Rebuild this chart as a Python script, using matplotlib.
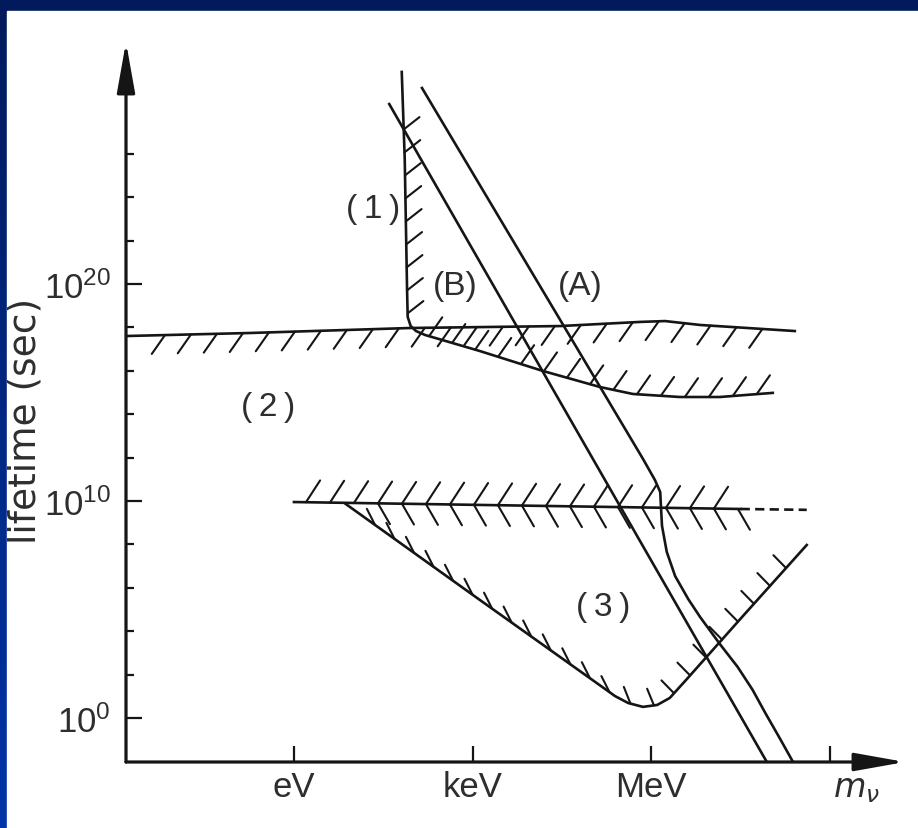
import numpy as np
import matplotlib
matplotlib.use("Agg")
import matplotlib.pyplot as plt
from matplotlib.patches import Rectangle

# all coordinates are log10(mass / eV) and log10(lifetime / s)

# bound (2): upper horizontal curve, hatched below
bound2_x = [-2.82, -0.74, 1.95, 4.47, 5.81, 6.23, 6.82, 8.41]
bound2_y = [17.60, 17.74, 17.97, 18.06, 18.25, 18.29, 18.11, 17.83]

# bound (1): steep wall that bends into the lower curve
bound1_x = [1.81, 1.86, 1.90, 1.91, 1.96, 2.05, 2.20, 3.12, 4.18, 5.14, 5.69, 6.48, 7.15, 8.04]
bound1_y = [29.77, 25.76, 19.63, 18.48, 18.06, 17.83, 17.65, 16.91, 15.99, 15.25, 14.93, 14.79, 14.79, 14.98]

# decay curves (B) and (A)
line_b_x = [1.60, 7.94]
line_b_y = [28.29, -2.03]

line_a_x = [2.15, 5.86, 6.06, 6.15, 6.16, 6.18, 6.26, 6.40, 6.62, 6.82, 7.15, 7.45, 7.70, 7.92, 8.15, 8.38]
line_a_y = [29.03, 11.94, 10.97, 10.41, 9.86, 8.85, 7.65, 6.54, 5.48, 4.65, 3.41, 2.35, 1.30, 0.20, -0.90, -2.03]

# bound (3): the 10^10 s line and the V-shaped curve below it
bound3_top_x = [0.0, 7.50]
bound3_top_y = [9.95, 9.63]
bound3_ext_x = [7.50, 8.61]
bound3_ext_y = [9.63, 9.59]

bound3_x = [0.87, 3.12, 5.15, 5.39, 5.61, 5.86, 6.10, 6.31, 6.60, 7.54, 8.61]
bound3_y = [9.86, 5.44, 1.48, 1.01, 0.69, 0.51, 0.60, 0.92, 1.80, 4.70, 7.97]

x_ticks = [0, 3, 6, 9]
x_tick_labels = ["eV", "keV", "MeV", ""]
y_major = [0, 10, 20]
y_major_labels = [r"$\mathregular{10^{0}}$", r"$\mathregular{10^{10}}$", r"$\mathregular{10^{20}}$"]
y_minor = [2, 4, 6, 8, 12, 14, 16, 18, 22, 24, 26]

ink = "#151515"
text_c = "#2e2e2e"
W, H = 918, 829
font = ["Liberation Sans", "DejaVu Sans"]


def hatch(ax, xs, ys, spacing, length, angle, lo=None, hi=None, along="x", lw=1.5):
    """Short strokes every `spacing` px along a curve, `length` px long."""
    pts = ax.transData.transform(np.column_stack([xs, ys]))
    inv = ax.transData.inverted()
    seg = np.diff(pts, axis=0)
    seglen = np.hypot(seg[:, 0], seg[:, 1])
    s = np.concatenate([[0], np.cumsum(seglen)])
    for si in np.arange(spacing / 2, s[-1], spacing):
        i = min(max(np.searchsorted(s, si) - 1, 0), len(seg) - 1)
        base = pts[i] + (si - s[i]) / seglen[i] * seg[i]
        bx, by = inv.transform(base)
        key = bx if along == "x" else by
        if lo is not None and key < lo:
            continue
        if hi is not None and key > hi:
            continue
        tang = np.degrees(np.arctan2(seg[i, 1], seg[i, 0]))
        a = np.radians(angle(tang) if callable(angle) else angle)
        end = base + length * np.array([np.cos(a), np.sin(a)])
        d = inv.transform(np.vstack([base, end]))
        ax.plot(d[:, 0], d[:, 1], color=ink, lw=lw, solid_capstyle="round")


fig = plt.figure(figsize=(W / 100, H / 100), dpi=100)

# blue frame with a vertical gradient, white sheet on top
bg = fig.add_axes([0, 0, 1, 1])
grad = np.linspace(0, 1, 256)[:, None]
top_c = np.array([0, 26, 92]) / 255
bot_c = np.array([0, 52, 168]) / 255
img = top_c + grad[..., None] * (bot_c - top_c)
bg.imshow(np.repeat(img, 2, axis=1), aspect="auto", extent=[0, 1, 0, 1], origin="upper")
bg.add_patch(Rectangle((7 / W, 0), 1, (H - 12) / H, color="white", transform=bg.transAxes))
bg.set_axis_off()

ax = fig.add_axes([126 / W, (H - 763) / H, (905 - 126) / W, (763 - 43) / H])
ax.patch.set_alpha(0)
ax.set_xlim(-2.82, 10.26)
ax.set_ylim(-2.03, 31.15)
for sp in ax.spines.values():
    sp.set_visible(False)

# axes drawn as arrows
arrow = dict(arrowstyle="-|>,head_length=1.4,head_width=0.25", lw=2.3, color=ink,
             mutation_scale=22, shrinkA=0, shrinkB=0)
ax.annotate("", xy=(0, 1), xytext=(0, 0), xycoords="axes fraction", arrowprops=arrow)
ax.annotate("", xy=(1, 0), xytext=(0, 0), xycoords="axes fraction", arrowprops=arrow)

ax.set_xticks(x_ticks)
ax.set_xticklabels(x_tick_labels, fontsize=25, family=font, color=text_c)
ax.set_yticks(y_major)
ax.set_yticklabels(y_major_labels, fontsize=25, family=font, color=text_c)
ax.set_yticks(y_minor, minor=True)
ax.tick_params(which="major", direction="in", length=11.5, width=1.6, color=ink)
ax.tick_params(which="minor", direction="in", length=6, width=1.6, color=ink)
ax.tick_params(axis="x", pad=6)
ax.tick_params(axis="y", pad=11)

lw = 1.9
ax.plot(bound2_x, bound2_y, color=ink, lw=lw)
ax.plot(bound1_x, bound1_y, color=ink, lw=lw)
ax.plot(line_b_x, line_b_y, color=ink, lw=lw)
ax.plot(line_a_x, line_a_y, color=ink, lw=lw)
ax.plot(bound3_top_x, bound3_top_y, color=ink, lw=lw)
ax.plot(bound3_ext_x, bound3_ext_y, color=ink, lw=lw, ls=(0, (3.5, 2)))
ax.plot(bound3_x, bound3_y, color=ink, lw=lw)

# hatching marks the excluded side of each bound
hatch(ax, bound2_x, bound2_y, 26, 23, 235, lo=-2.4, hi=8.05)
hatch(ax, bound1_x, bound1_y, 23, 20, 38, lo=18.6, hi=27.6, along="y")
hatch(ax, bound1_x, bound1_y, 24, 23, 55, lo=2.2, hi=7.9)
line10_x = bound3_top_x + bound3_ext_x[1:]
line10_y = bound3_top_y + bound3_ext_y[1:]
hatch(ax, line10_x, line10_y, 24, 26, 57, lo=0.0, hi=7.1)
hatch(ax, line10_x, line10_y, 24, 24, -60, lo=1.4, hi=7.6)
hatch(ax, bound3_x, bound3_y, 24, 18,
      lambda t: 108 + 0.55 * t if t > 0 else 108 - 0.25 * t, lo=1.2, hi=8.45)

label_kw = dict(fontsize=24, color=text_c, ha="center", va="center", family=font)
ax.text(1.33, 23.46, "(\u20091\u2009)", **label_kw)
ax.text(2.70, 19.91, "(B)", **label_kw)
ax.text(4.80, 19.91, "(A)", **label_kw)
ax.text(-0.44, 14.33, "(\u20092\u2009)", **label_kw)
ax.text(5.19, 5.12, "(\u20093\u2009)", **label_kw)

fig.text(856 / W, 1 - 789 / H, r"$m_\nu$", fontsize=24, color=text_c, ha="center", va="center")
fig.text(26 / W, 1 - 421 / H, "lifetime (sec)", rotation=90, fontsize=27, color=text_c,
         ha="center", va="center", family=["DejaVu Sans"])

fig.savefig("out.png", dpi=100)
